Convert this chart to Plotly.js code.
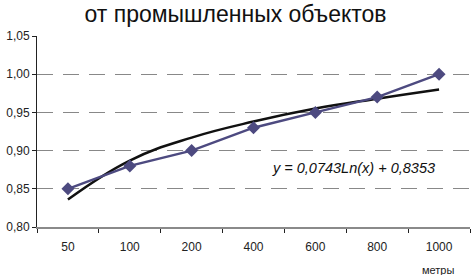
<!DOCTYPE html>
<html><head><meta charset="utf-8">
<script src="https://cdn.plot.ly/plotly-3.0.1.min.js"></script>
<style>html,body{margin:0;padding:0;background:#fff}#c{width:471px;height:275px}</style>
</head><body><div id="c"></div>
<script>
const categories = ["50","100","200","400","600","800","1000"];
const values = [0.85, 0.88, 0.90, 0.93, 0.95, 0.97, 1.00];
const trendValues = [0.836, 0.887, 0.917, 0.938, 0.955, 0.968, 0.980];
const yTicks = [0.80, 0.85, 0.90, 0.95, 1.00, 1.05];
const titleText = "от промышленных объектов";
const xTitle = "метры";
const equation = "y = 0,0743Ln(x) + 0,8353";

const font = "Liberation Sans, Arial, sans-serif";
const traces = [
  {x: categories, y: trendValues, type: "scatter", mode: "lines",
   line: {color: "#111111", width: 2.5, shape: "spline", smoothing: 1.2}, hoverinfo: "skip"},
  {x: categories, y: values, type: "scatter", mode: "lines+markers",
   line: {color: "#4d4a80", width: 2.5},
   marker: {symbol: "diamond", size: 10, color: "#4d4a80"}}
];
const layout = {
  width: 471, height: 275,
  margin: {l: 37, r: 1, t: 36, b: 48},
  paper_bgcolor: "#fff", plot_bgcolor: "#fff",
  showlegend: false,
  separators: ", ",
  font: {family: font, size: 12, color: "#222"},
  title: {text: titleText, font: {family: font, size: 23, color: "#111"}, x: 0.5, xanchor: "center", y: 0.95, yanchor: "middle"},
  xaxis: {type: "category", range: [-0.5, 6.5], showgrid: false, zeroline: false,
    showline: true, linecolor: "#8a8a8a", linewidth: 2,
    ticks: "outside", tickson: "boundaries", ticklen: 4, tickcolor: "#222", tickwidth: 1,
    tickfont: {family: font, size: 12, color: "#222"}, ticklabelstandoff: 8},
  yaxis: {range: [0.80, 1.05], tickvals: yTicks, tickformat: ".2f",
    showgrid: true, gridcolor: "#888", gridwidth: 1, griddash: "16px,10px",
    zeroline: false, showline: true, linecolor: "#222", linewidth: 1,
    ticks: "outside", ticklen: 4, tickcolor: "#222",
    tickfont: {family: font, size: 12, color: "#222"}},
  annotations: [
    {text: xTitle, xref: "paper", yref: "paper", x: 0.927, y: -0.225, xanchor: "center", yanchor: "middle",
     showarrow: false, font: {family: font, size: 11, color: "#222"}},
    {text: "<i>" + equation + "</i>", xref: "paper", yref: "paper", x: 0.73, y: 0.31, xanchor: "center", yanchor: "middle",
     showarrow: false, font: {family: font, size: 14.5, color: "#111"}}
  ]
};
Plotly.newPlot("c", traces, layout, {staticPlot: true, displayModeBar: false});
</script></body></html>
